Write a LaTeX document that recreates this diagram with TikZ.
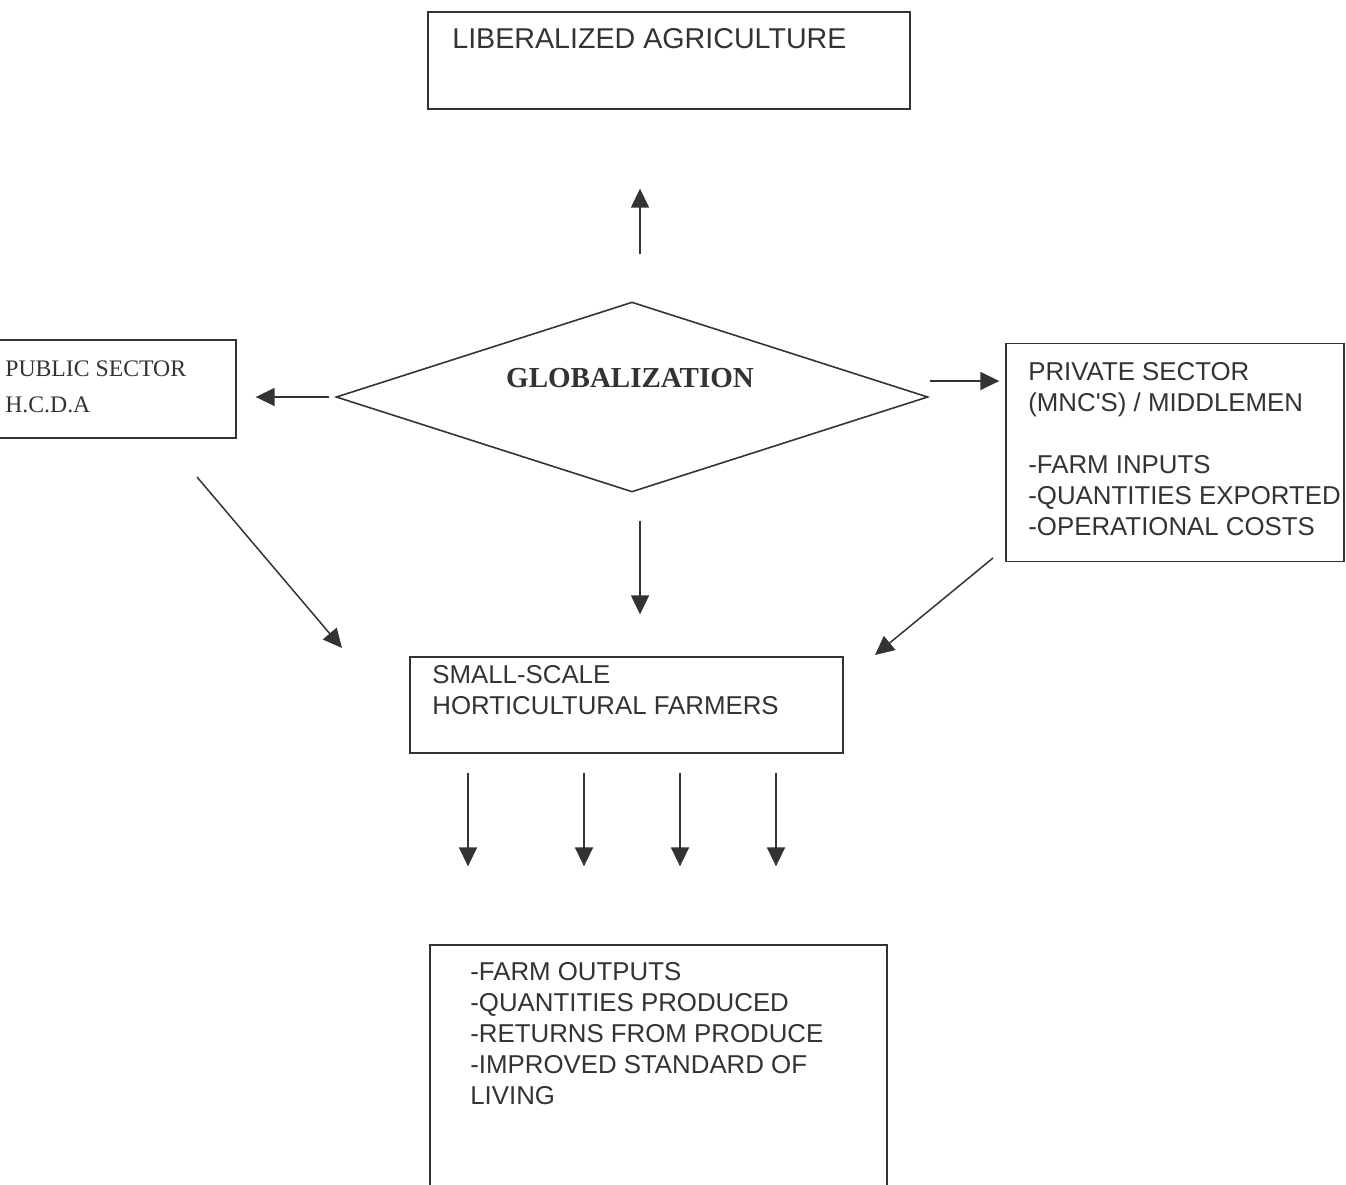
\documentclass[tikz,border=0pt]{standalone}
\usepackage{fontspec}
\usepackage{tikz}
\usetikzlibrary{arrows.meta}
\usetikzlibrary{shapes.geometric}
\usetikzlibrary{positioning}
\newfontfamily\labelfont{Liberation Sans}
\newfontfamily\titlefont{Liberation Serif}
\definecolor{ink}{HTML}{333333}
\tikzset{box/.style = {draw=ink, line width=0.8pt, rectangle, inner sep=0pt},
         boxtext/.style = {anchor=north west, align=left, inner sep=0pt, text=ink,
                           font=\labelfont\fontsize{14.7}{17.6}\selectfont},
         arr/.style = {-{Triangle[length=0.38cm,width=0.36cm]}, line width=0.85pt, draw=ink}}

\begin{document}
\begin{tikzpicture}[x=0.02cm, y=-0.02cm]
    \useasboundingbox (0,0) rectangle (1346,1184);
    \clip (0,0) rectangle (1346,1184);
    \fill[white] (0,0) rectangle (1346,1184);

    % boxes
    \node[box, minimum width=9.64cm, minimum height=1.94cm] (lib) at (669,60.5) {};
    \node[box, minimum width=5.32cm, minimum height=1.96cm] (pub) at (103,389) {};
    \node[box, minimum width=6.76cm, minimum height=4.36cm] (priv) at (1175,452.5) {};
    \node[box, minimum width=8.66cm, minimum height=1.92cm] (farm) at (626.5,705) {};
    \node[box, minimum width=9.14cm, minimum height=5.3cm] (outs) at (658.5,1077.5) {};
    \node[diamond, draw=ink, line width=0.9pt, inner sep=0pt,
          minimum width=11.84cm, minimum height=3.8cm] (glob) at (632,397) {};

    % texts
    \node[boxtext, font=\labelfont\fontsize{16.3}{19}\selectfont] (libtxt) at (452,28) {LIBERALIZED AGRICULTURE};
    \node[boxtext, font=\titlefont\fontsize{13.5}{21}\selectfont] (pubtxt) at (5,360) {PUBLIC SECTOR\\H.C.D.A};
    \node[boxtext] (privtxt) at (1028,362) {PRIVATE SECTOR\\(MNC'S) / MIDDLEMEN\\[17.6pt]
        -FARM INPUTS\\-QUANTITIES EXPORTED\\-OPERATIONAL COSTS};
    \node[boxtext] (farmtxt) at (432,665) {SMALL-SCALE\\HORTICULTURAL FARMERS};
    \node[boxtext] (outstxt) at (470,962) {-FARM OUTPUTS\\-QUANTITIES PRODUCED\\-RETURNS FROM PRODUCE\\
        -IMPROVED STANDARD OF\\LIVING};
    \node[text=ink, font=\titlefont\bfseries\fontsize{16.5}{20}\selectfont] (globtxt) at (630,378) {GLOBALIZATION};

    % free ends of the slanted arrows
    \coordinate (pubout) at (197,477);
    \coordinate (farmin1) at (342,648);
    \coordinate (privout) at (993,558);
    \coordinate (farmin2) at (875,655);

    % arrows
    \draw[arr, shorten <=0.94cm, shorten >=1.58cm] (640,0 |- glob.north) -- (640,0 |- lib.south);
    \draw[arr, shorten <=0.12cm, shorten >=0.38cm] (glob.west) -- (glob.west -| pub.east);
    \draw[arr, shorten >=0.12cm] (930,381) -- (930,381 -| priv.west);
    \draw[arr, shorten <=0.56cm, shorten >=0.84cm] (640,0 |- glob.south) -- (640,0 |- farm.north);
    \draw[arr] (pubout) -- (farmin1);
    \draw[arr] (privout) -- (farmin2);
    \foreach \ax in {468,584,680,776}
        \draw[arr, shorten <=0.38cm, shorten >=1.56cm] (\ax,0 |- farm.south) -- (\ax,0 |- outs.north);
\end{tikzpicture}
\end{document}
